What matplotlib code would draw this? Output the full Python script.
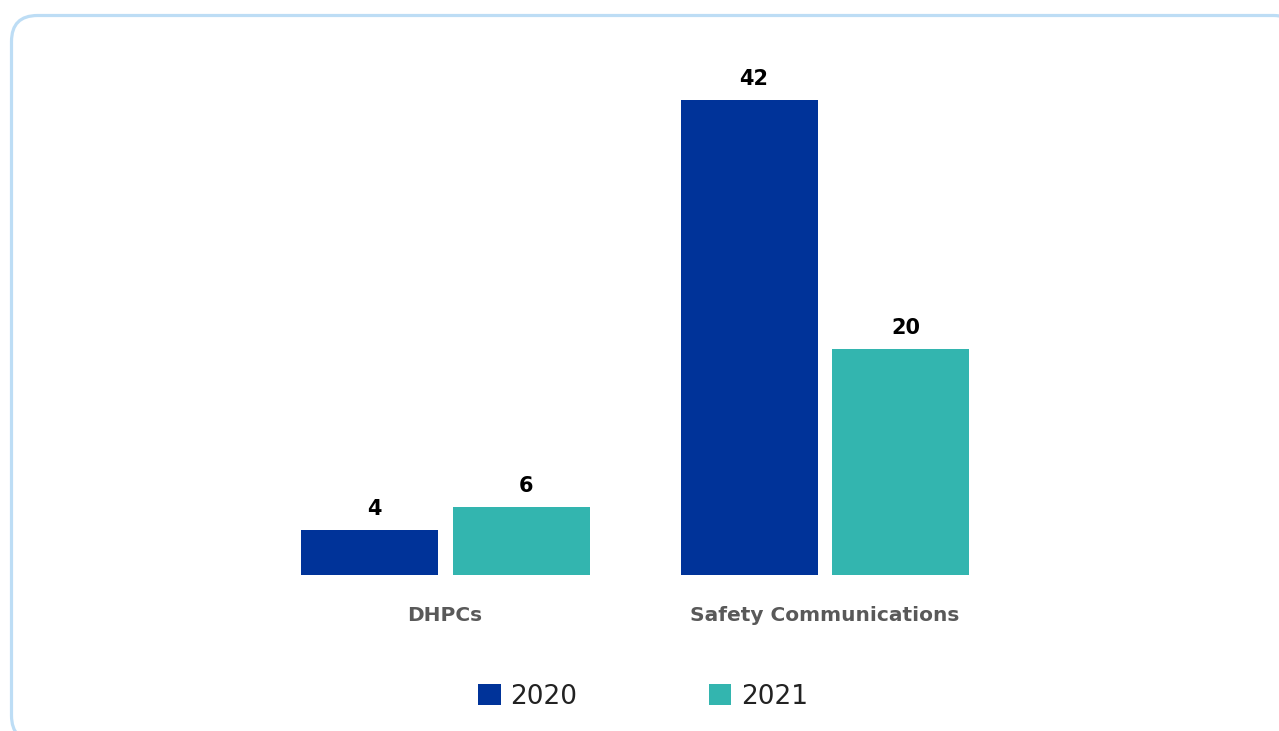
import matplotlib
matplotlib.use('Agg')
import matplotlib.pyplot as plt
from matplotlib.patches import FancyBboxPatch, Patch
import numpy as np

plt.rcParams['font.family'] = 'DejaVu Sans'

categories = ['DHPCs', 'Safety Communications']
years = ['2020', '2021']
values_2020 = [4, 42]
values_2021 = [6, 20]
colors = ['#003399', '#33B5AF']

W, H = 1279, 731
fig = plt.figure(figsize=(W / 100, H / 100), dpi=100)

# background frame (pixel coordinates)
bg = fig.add_axes([0, 0, 1, 1])
bg.set_xlim(0, W)
bg.set_ylim(H, 0)
bg.axis('off')
bg.add_patch(FancyBboxPatch((11.5, 15.5), 1288, 726,
                            boxstyle='round,pad=0,rounding_size=26',
                            facecolor='white', edgecolor='#BDDDF5', linewidth=2.3))

# main axes: baseline at y=575 px, 11.31 px per unit
ymax = 45
px_per_unit = 475 / 42
ax_bottom = 575
ax_top = ax_bottom - ymax * px_per_unit
x0, x1 = -0.8, 1.8
spacing = 380
ax_left = 445 + x0 * spacing
ax_width = (x1 - x0) * spacing
ax = fig.add_axes([ax_left / W, 1 - ax_bottom / H, ax_width / W, (ax_bottom - ax_top) / H])
ax.set_xlim(x0, x1)
ax.set_ylim(0, ymax)
ax.axis('off')

x = np.arange(len(categories))
offset = 0.2
width = 137 / spacing
series = [values_2020, values_2021]
for i, vals in enumerate(series):
    pos = x + (i - 0.5) * 2 * offset
    ax.bar(pos, vals, width=width, color=colors[i], zorder=2)
    for p, v in zip(pos, vals):
        ax.text(p + 0.013, v + 0.95, str(v), ha='center', va='bottom', fontsize=15,
                fontweight='bold', color='black', clip_on=False)

for xi, cat in zip(x, categories):
    ax.text(xi, -3.55, cat, ha='center', va='center', fontsize=14.5,
            fontweight='bold', color='#595959', clip_on=False)

handles = [Patch(facecolor=c, edgecolor='none') for c in colors]
fig.legend(handles, years, loc='center', bbox_to_anchor=(643 / W, 1 - 697 / H),
           ncol=2, frameon=False, fontsize=19, handlelength=0.85, handleheight=0.85,
           handletextpad=0.35, columnspacing=5.0, labelcolor='#222222')

plt.savefig('out.png', dpi=100, facecolor='white')
